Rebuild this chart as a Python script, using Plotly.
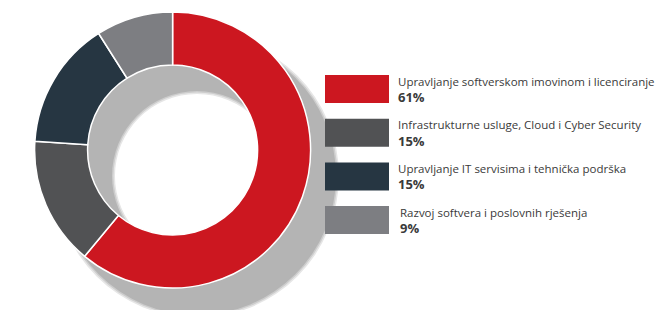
import plotly.graph_objects as go

# ---- data ----
categories = [
    "Upravljanje softverskom imovinom i licenciranje",
    "Infrastrukturne usluge, Cloud i Cyber Security",
    "Upravljanje IT servisima i tehnička podrška",
    "Razvoj softvera i poslovnih rješenja",
]
values = [61, 15, 15, 9]
pct_labels = ["61%", "15%", "15%", "9%"]
colors = ["#cc1720", "#515254", "#263642", "#7d7e82"]

W, H = 656, 340  # page window is 310 tall; the extra strip below is just off-screen

def px(x):
    return x / W

def py(y):
    return 1 - y / H

def ring(cx, cy, R, r, color, name):
    return go.Pie(
        values=[1], labels=[name], hole=r / R, sort=False,
        marker=dict(colors=[color], line=dict(width=0)),
        textinfo="none", hoverinfo="skip", showlegend=False,
        domain=dict(x=[px(cx - R), px(cx + R)], y=[py(cy + R), py(cy - R)]),
    )

fig = go.Figure()

# soft drop shadow of the donut
scx, scy, sR, sr = 197, 176, 139, 85
fig.add_trace(ring(scx, scy, sR + 3, sr - 3, "#e6e6e6", "s1"))
fig.add_trace(ring(scx, scy, sR + 1.5, sr - 1.5, "#cdcdcd", "s2"))
fig.add_trace(ring(scx, scy, sR, sr, "#b4b4b4", "s3"))

# main donut
cx, cy, R = 172.6, 150, 138
fig.add_trace(go.Pie(
    values=values, labels=categories, hole=0.616, sort=False,
    direction="clockwise", rotation=0,
    marker=dict(colors=colors, line=dict(color="white", width=1.5)),
    textinfo="none", showlegend=False,
    domain=dict(x=[px(cx - R), px(cx + R)], y=[py(cy + R), py(cy - R)]),
))

# custom legend
box_x0, box_x1 = 325, 389
box_top0, box_h, step = 75, 28, 43.7
shapes = []
annotations = []
for i, (cat, pct, col) in enumerate(zip(categories, pct_labels, colors)):
    top = box_top0 + i * step
    shapes.append(dict(type="rect", xref="paper", yref="paper",
                       x0=px(box_x0), x1=px(box_x1), y0=py(top + box_h), y1=py(top),
                       fillcolor=col, line=dict(width=0), layer="above"))
    tx = 396 if i < 3 else 398
    annotations.append(dict(xref="paper", yref="paper", x=px(tx), y=py(top + 6),
                            text=cat, showarrow=False, xanchor="left", yanchor="middle",
                            font=dict(family="Open Sans", size=11.5, color="#3a3a3a")))
    annotations.append(dict(xref="paper", yref="paper", x=px(tx), y=py(top + 22),
                            text="<b>" + pct + "</b>", showarrow=False, xanchor="left",
                            yanchor="middle",
                            font=dict(family="Open Sans", size=13, color="#3a3a3a")))

fig.update_layout(
    width=W, height=H, margin=dict(l=0, r=0, t=0, b=0),
    paper_bgcolor="white", plot_bgcolor="white",
    shapes=shapes, annotations=annotations, showlegend=False,
)

fig.write_html("out.html", config={"displayModeBar": False},
               post_script="document.body.style.margin='0';document.body.style.overflow='hidden';")
